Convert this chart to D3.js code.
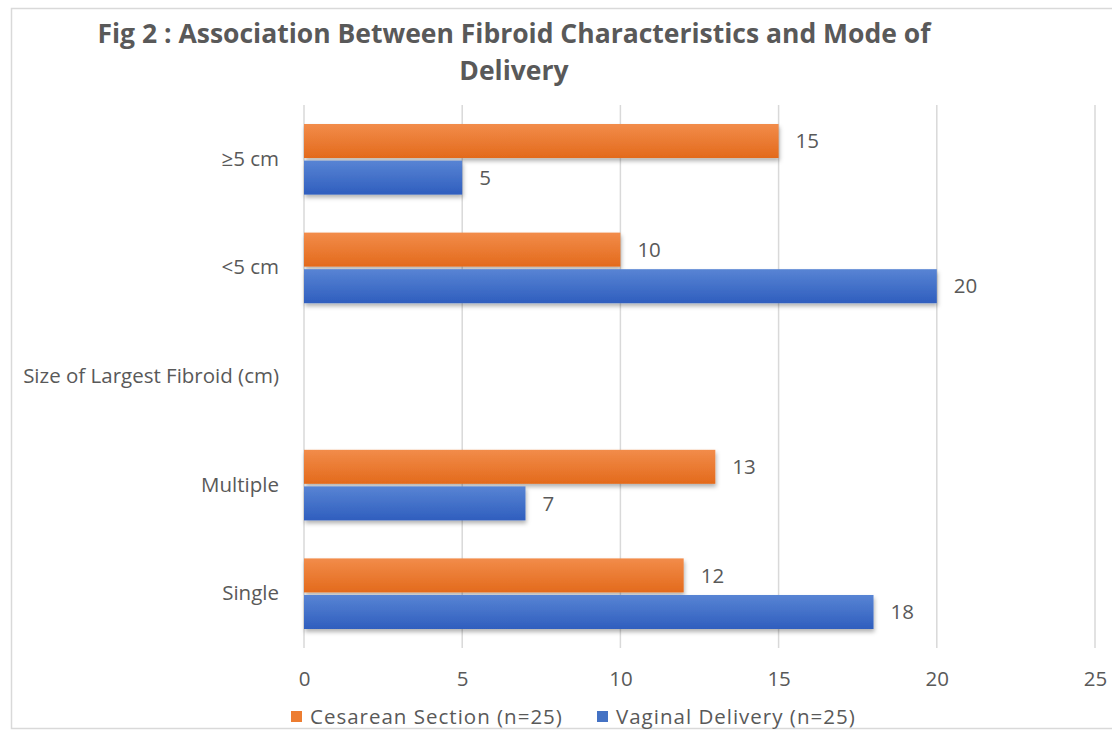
<!DOCTYPE html>
<html>
<head>
<meta charset="utf-8">
<script src="https://cdn.jsdelivr.net/npm/d3@7"></script>
<style>
  body { margin: 0; background: #fff; }
  svg { display: block; font-family: "Open Sans", sans-serif; }
</style>
</head>
<body>
<div id="chart"></div>
<script>
// categories listed top to bottom
const categories = ["≥5 cm", "<5 cm", "Size of Largest Fibroid (cm)", "Multiple", "Single"];
const seriesNames = ["Cesarean Section (n=25)", "Vaginal Delivery (n=25)"];
const cesarean = [15, 10, null, 13, 12];
const vaginal = [5, 20, null, 7, 18];
const xTicks = [0, 5, 10, 15, 20, 25];
const titleLines = ["Fig 2 : Association Between Fibroid Characteristics and Mode of", "Delivery"];

const W = 1112, H = 731;
const margin = { top: 105, right: 17, bottom: 82, left: 304 };
const font = "'Open Sans', sans-serif";
const fs = 20.5;

const svg = d3.select("#chart")
    .append("svg")
    .attr("width", W)
    .attr("height", H);

const defs = svg.append("defs");

// gradients for the bars (light top, darker bottom)
const grads = [
    { id: "gOrange", top: "#F28C4A", bottom: "#E36A1C" },
    { id: "gBlue", top: "#5884D4", bottom: "#2F5EBE" }
];
grads.forEach(g => {
    const lg = defs.append("linearGradient")
        .attr("id", g.id)
        .attr("x1", 0).attr("y1", 0).attr("x2", 0).attr("y2", 1);
    lg.append("stop").attr("offset", "0%").attr("stop-color", g.top);
    lg.append("stop").attr("offset", "100%").attr("stop-color", g.bottom);
});

defs.append("filter")
    .attr("id", "shadow")
    .attr("x", "-5%").attr("y", "-20%").attr("width", "110%").attr("height", "160%")
    .append("feDropShadow")
    .attr("dx", 1).attr("dy", 3)
    .attr("stdDeviation", 2)
    .attr("flood-color", "#000")
    .attr("flood-opacity", 0.3);

// chart area border (cut off at right edge)
svg.append("rect")
    .attr("x", 11.5).attr("y", 8.5)
    .attr("width", W + 20).attr("height", 720)
    .attr("fill", "#fff")
    .attr("stroke", "#d9d9d9")
    .attr("stroke-width", 1.5);

// title
svg.append("g")
    .selectAll("text")
    .data(titleLines)
    .enter()
    .append("text")
    .attr("x", 514)
    .attr("y", (d, i) => 43 + i * 37)
    .attr("text-anchor", "middle")
    .attr("font-size", 26.5)
    .attr("font-weight", "bold")
    .attr("fill", "#595959")
    .text(d => d);

const xScale = d3.scaleLinear()
    .domain([0, 25])
    .range([margin.left, 1095]);

const yScale = d3.scaleBand()
    .domain(categories)
    .range([margin.top, 648])
    .paddingInner(0.35)
    .paddingOuter(0.175);

const ySub = d3.scaleBand()
    .domain([0, 1])
    .range([0, yScale.bandwidth()])
    .paddingInner(0.07);

// gridlines
svg.append("g")
    .selectAll("line")
    .data(xTicks)
    .enter()
    .append("line")
    .attr("x1", d => xScale(d))
    .attr("x2", d => xScale(d))
    .attr("y1", margin.top)
    .attr("y2", 648)
    .attr("stroke", "#d9d9d9")
    .attr("stroke-width", 1.5);

// x axis labels
const xAxis = svg.append("g")
    .attr("transform", "translate(0,648)")
    .call(d3.axisBottom(xScale).tickValues(xTicks).tickSize(0).tickPadding(23));
xAxis.select(".domain").remove();
xAxis.selectAll("text")
    .attr("font-size", fs)
    .attr("font-family", font)
    .attr("fill", "#595959");

// y axis labels
const yAxis = svg.append("g")
    .attr("transform", `translate(${margin.left},0)`)
    .call(d3.axisLeft(yScale).tickSize(0).tickPadding(25));
yAxis.select(".domain").remove();
yAxis.selectAll("text")
    .attr("font-size", fs)
    .attr("font-family", font)
    .attr("fill", "#595959");

// bar data
const rows = [];
categories.forEach((c, i) => {
    [cesarean[i], vaginal[i]].forEach((v, s) => {
        if (v !== null) rows.push({ cat: c, s: s, value: v });
    });
});
const fills = ["url(#gOrange)", "url(#gBlue)"];

svg.append("g")
    .selectAll("rect")
    .data(rows)
    .enter()
    .append("rect")
    .attr("x", xScale(0))
    .attr("y", d => yScale(d.cat) + ySub(d.s))
    .attr("width", d => xScale(d.value) - xScale(0))
    .attr("height", ySub.bandwidth())
    .attr("fill", d => fills[d.s])
    .attr("filter", "url(#shadow)");

// value labels
svg.append("g")
    .selectAll("text")
    .data(rows)
    .enter()
    .append("text")
    .attr("x", d => xScale(d.value) + 17)
    .attr("y", d => yScale(d.cat) + ySub(d.s) + ySub.bandwidth() / 2)
    .attr("dy", "0.35em")
    .attr("font-size", fs)
    .attr("fill", "#595959")
    .text(d => d.value);

// legend
const legendX = [291, 597];
const legendColors = ["#ED7D31", "#4472C4"];
const legend = svg.append("g")
    .selectAll("g")
    .data(seriesNames)
    .enter()
    .append("g")
    .attr("transform", (d, i) => `translate(${legendX[i]},711)`);
legend.append("rect")
    .attr("width", 11).attr("height", 11)
    .attr("fill", (d, i) => legendColors[i]);
legend.append("text")
    .attr("x", 19)
    .attr("y", 6)
    .attr("dy", "0.35em")
    .attr("font-size", fs)
    .attr("letter-spacing", 1)
    .attr("fill", "#595959")
    .text(d => d);
</script>
</body>
</html>
